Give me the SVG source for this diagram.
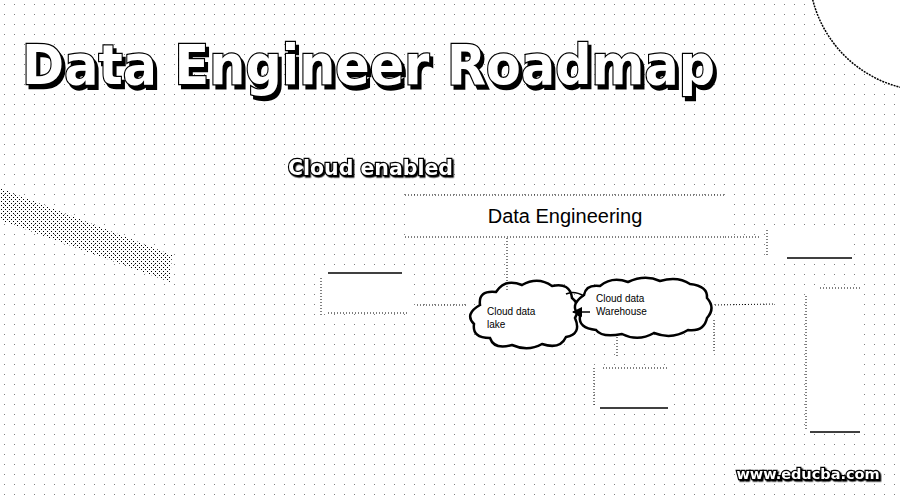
<svg xmlns="http://www.w3.org/2000/svg" width="900" height="500" viewBox="0 0 900 500">
<defs>
<pattern id="bgdots" width="10" height="10" patternUnits="userSpaceOnUse"><rect x="4" y="4" width="1" height="1" fill="#000"/></pattern>
<pattern id="band" width="4" height="4" patternUnits="userSpaceOnUse"><rect x="1" y="1" width="1" height="1" fill="#000"/><rect x="3" y="3" width="1" height="1" fill="#000"/></pattern>
<marker id="ah" viewBox="0 0 10 10" refX="9" refY="5" markerWidth="7" markerHeight="7" orient="auto"><path d="M0,0 L10,5 L0,10 z" fill="#000"/></marker>
<filter id="sh" x="-10%" y="-50%" width="120%" height="200%"><feDropShadow dx="3" dy="4" stdDeviation="0" flood-color="#000"/></filter>
<filter id="shs" x="-10%" y="-50%" width="120%" height="200%"><feDropShadow dx="1.5" dy="1.5" stdDeviation="0" flood-color="#000"/></filter>
</defs>
<style>
.title{font-family:"DejaVu Sans",Verdana,sans-serif;font-weight:bold;fill:#fff;stroke:#000;stroke-width:2.5;paint-order:stroke}
.lbl{font-family:"Liberation Sans",Arial,sans-serif;fill:#000}
.dot{fill:none;stroke:#000;stroke-width:1;stroke-dasharray:1 2}
.solid{fill:none;stroke:#000;stroke-width:1.5}
.cloud{fill:#fff;stroke:#000;stroke-width:2.5}
</style>
<rect width="900" height="500" fill="#fff"/>
<rect width="900" height="500" fill="url(#bgdots)" opacity="0.5"/>
<polygon points="0,188 172,255 170,282 0,220" fill="url(#band)"/>
<circle cx="930" cy="-30" r="121" fill="#fff" stroke="#000" stroke-width="1.5" stroke-dasharray="2 1"/>
<g id="title">
<text class="title" x="22" y="84" font-size="56" filter="url(#sh)" textLength="693" lengthAdjust="spacingAndGlyphs">Data Engineer Roadmap</text>
</g>
<g id="subtitle">
<text class="title" x="288" y="175" font-size="22" stroke-width="1.5" filter="url(#shs)" textLength="165" lengthAdjust="spacingAndGlyphs">Cloud enabled</text>
</g>
<g id="data-engineering">
<rect x="405" y="195" width="320" height="42" fill="#fff"/>
<line class="dot" x1="405" y1="195" x2="725" y2="195"/>
<line class="dot" x1="405" y1="237" x2="725" y2="237"/>
<text class="lbl" x="565" y="223" font-size="20" text-anchor="middle">Data Engineering</text>
</g>
<g id="box-left">
<rect x="322" y="272" width="84" height="41" fill="#fff"/>
<line class="solid" x1="328" y1="273" x2="402" y2="273"/>
<line class="dot" x1="328" y1="313" x2="407" y2="313"/>
<line class="dot" x1="321" y1="278" x2="321" y2="315"/>
</g>
<g id="cloud-lake">
<path class="cloud" d="M480,305 Q478,290 496,292 Q505,278 522,285 Q538,276 552,286 Q570,282 572,298 Q582,306 575,318 Q582,334 566,337 Q560,350 542,344 Q528,352 512,345 Q494,350 490,338 Q472,338 474,324 Q464,314 480,305 z"/>
<text class="lbl" x="487" y="315" font-size="10">Cloud data</text>
<text class="lbl" x="487" y="328" font-size="10">lake</text>
</g>
<g id="cloud-warehouse">
<path class="cloud" d="M584,295 Q586,284 600,286 Q612,276 628,282 Q645,274 660,281 Q678,276 690,284 Q708,286 707,298 Q716,308 707,318 Q704,332 688,330 Q672,340 654,333 Q638,342 622,334 Q602,338 596,330 Q578,328 580,316 Q568,306 584,295 z"/>
<text class="lbl" x="596" y="302" font-size="10">Cloud data</text>
<text class="lbl" x="596" y="315" font-size="10">Warehouse</text>
</g>
<g id="box-bottom">
<rect x="595" y="368" width="73" height="40" fill="#fff"/>
<line class="dot" x1="603" y1="368" x2="668" y2="368"/>
<line class="solid" x1="600" y1="408" x2="668" y2="408"/>
<line class="dot" x1="594" y1="368" x2="594" y2="405"/>
</g>
<g id="box-topright">
<rect x="768" y="230" width="84" height="28" fill="#fff"/>
<line class="dot" x1="767" y1="230" x2="767" y2="255"/>
<line class="solid" x1="787" y1="258" x2="852" y2="258"/>
</g>
<g id="box-right">
<rect x="806" y="290" width="58" height="142" fill="#fff"/>
<line class="dot" x1="806" y1="296" x2="806" y2="430"/>
<line class="solid" x1="810" y1="432" x2="860" y2="432"/>
<line class="dot" x1="820" y1="288" x2="862" y2="288"/>
</g>
<g id="connectors">
<line class="dot" x1="507" y1="238" x2="507" y2="290"/>
<line class="dot" x1="417" y1="305" x2="468" y2="305"/>
<line class="dot" x1="715" y1="305" x2="775" y2="304"/>
<line class="dot" x1="617" y1="337" x2="617" y2="358"/>
<line class="dot" x1="714" y1="320" x2="714" y2="352"/>
<line class="dot" x1="725" y1="237" x2="760" y2="237"/>
<path class="solid" d="M566,294 Q574,290 584,296"/>
<line class="solid" x1="590" y1="312" x2="573" y2="312" marker-end="url(#ah)"/>
</g>
<g id="watermark">
<text class="title" x="808" y="479" font-size="14.5" stroke-width="1.2" text-anchor="middle" filter="url(#shs)">www.educba.com</text>
</g>
</svg>
